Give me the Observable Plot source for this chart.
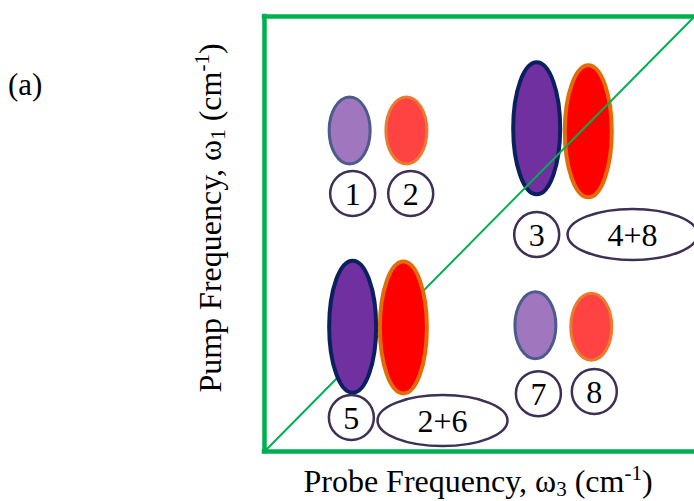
<!DOCTYPE html>
<html>
<head>
<meta charset="utf-8">
<script src="https://cdn.jsdelivr.net/npm/d3@7"></script>
<script src="https://cdn.jsdelivr.net/npm/@observablehq/plot@0.6"></script>
<style>
  html, body { margin: 0; padding: 0; background: #fff; }
  #chart svg { display: block; }
  #chart svg text { font-family: "Liberation Serif", "Times New Roman", serif !important; }
</style>
</head>
<body>
<div id="chart"></div>
<script>
// ---- data (probe frequency x, pump frequency y, in arbitrary 0–100 units) ----
const peakX    = [19.8, 33.0, 63.3, 75.3, 20.5, 32.3, 63.0, 76.0];
const peakY    = [73.8, 73.8, 74.3, 73.6, 28.7, 28.5, 29.0, 28.7];
const peakSign = ["neg", "pos", "neg", "pos", "neg", "pos", "neg", "pos"];
const peakKind = ["weak", "weak", "strong", "strong", "strong", "strong", "weak", "weak"];
const peakRow  = ["upper", "upper", "upper", "upper", "lower", "lower", "lower", "lower"];

const labelText = ["1", "2", "3", "4+8", "5", "2+6", "7", "8"];
const labelX    = [20.5, 34.0, 63.3, 85.6, 20.2, 41.4, 63.7, 76.7];
const labelY    = [59.3, 59.3, 49.9, 49.9, 7.8, 7.1, 13.3, 13.8];

const diagonal = [0, 100];

const xLabel = "Probe Frequency, ω";
const yLabel = "Pump Frequency, ω";
const panelTag = "(a)";

// ---- tables built from the arrays ----
const peaks = peakX.map((x, i) => ({x, y: peakY[i], sign: peakSign[i], kind: peakKind[i], row: peakRow[i]}));
const labels = labelText.map((t, i) => ({text: t, x: labelX[i], y: labelY[i], wide: t.length > 1}));

// ---- styling ----
const GREEN = "#00b050";
const SERIF = "'Liberation Serif', 'Times New Roman', serif";
function ellipse(rx, ry) {
  return {
    draw(ctx) {
      const k = 0.5522848, ox = rx * k, oy = ry * k;
      ctx.moveTo(-rx, 0);
      ctx.bezierCurveTo(-rx, -oy, -ox, -ry, 0, -ry);
      ctx.bezierCurveTo(ox, -ry, rx, -oy, rx, 0);
      ctx.bezierCurveTo(rx, oy, ox, ry, 0, ry);
      ctx.bezierCurveTo(-ox, ry, -rx, oy, -rx, 0);
      ctx.closePath();
    }
  };
}
const style = {
  "neg-weak":   {fill: "#a077be", stroke: "#4d5a8c", strokeWidth: 3, symbol: ellipse(20.5, 33.5)},
  "pos-weak":   {fill: "#ff4343", stroke: "#ec7a2c", strokeWidth: 3, symbol: ellipse(20.5, 33.5)},
  "neg-strong": {fill: "#7030a0", stroke: "#0b2060", strokeWidth: 4, symbol: ellipse(23.5, 66)},
  "pos-strong": {fill: "#ff0000", stroke: "#e36c09", strokeWidth: 4, symbol: ellipse(23.5, 66)}
};
function peakMarks(row) {
  return Object.keys(style).map(key => Plot.dot(peaks, {
    filter: d => d.row === row && `${d.sign}-${d.kind}` === key,
    x: "x", y: "y", r: 10, ...style[key]
  }));
}

const plot = Plot.plot({
  width: 694,
  height: 501,
  marginLeft: 264,
  marginRight: 0,
  marginTop: 16,
  marginBottom: 50,
  x: {domain: [0, 100], axis: null},
  y: {domain: [0, 100], axis: null},
  style: {background: "#fff"},
  marks: [
    ...peakMarks("upper"),
    Plot.line(diagonal, {x: d => d, y: d => d, stroke: GREEN, strokeWidth: 2}),
    ...peakMarks("lower"),
    Plot.dot(labels, {filter: d => !d.wide, x: "x", y: "y", r: 10, symbol: ellipse(22.5, 22.5),
      fill: "#fff", stroke: "#3d3054", strokeWidth: 2.5}),
    Plot.dot(labels, {filter: d => d.wide, x: "x", y: "y", r: 10, symbol: ellipse(65, 25.5),
      fill: "#fff", stroke: "#3d3054", strokeWidth: 2.5}),
    Plot.text(labels, {x: "x", y: "y", text: "text", fontFamily: SERIF, fontSize: 32, fill: "#000", dy: 1}),
    Plot.ruleX([0], {stroke: GREEN, strokeWidth: 4.5, strokeLinecap: "square"}),
    Plot.ruleY([0, 100], {stroke: GREEN, strokeWidth: 4.5, strokeLinecap: "square"})
  ]
});

const svg = d3.select(plot);
// x axis label
const tx = svg.append("text")
  .attr("x", 478).attr("y", 492)
  .attr("text-anchor", "middle")
  .style("font-family", SERIF).attr("font-size", 32).attr("fill", "#000");
tx.append("tspan").text(xLabel);
tx.append("tspan").attr("font-size", 21).attr("dy", 4).text("3");
tx.append("tspan").attr("dy", -4).text(" (cm");
tx.append("tspan").attr("font-size", 21).attr("dy", -12).text("-1");
tx.append("tspan").attr("dy", 12).text(")");
// y axis label
const ty = svg.append("text")
  .attr("transform", "translate(221,218) rotate(-90)")
  .attr("text-anchor", "middle")
  .style("font-family", SERIF).attr("font-size", 32).attr("fill", "#000");
ty.append("tspan").text(yLabel);
ty.append("tspan").attr("font-size", 21).attr("dy", 4).text("1");
ty.append("tspan").attr("dy", -4).text(" (cm");
ty.append("tspan").attr("font-size", 21).attr("dy", -12).text("-1");
ty.append("tspan").attr("dy", 12).text(")");
// panel tag
svg.append("text")
  .attr("x", 8).attr("y", 95)
  .attr("text-anchor", "start")
  .style("font-family", SERIF).attr("font-size", 31).attr("fill", "#000")
  .text(panelTag);

document.getElementById("chart").appendChild(plot);
</script>
</body>
</html>
